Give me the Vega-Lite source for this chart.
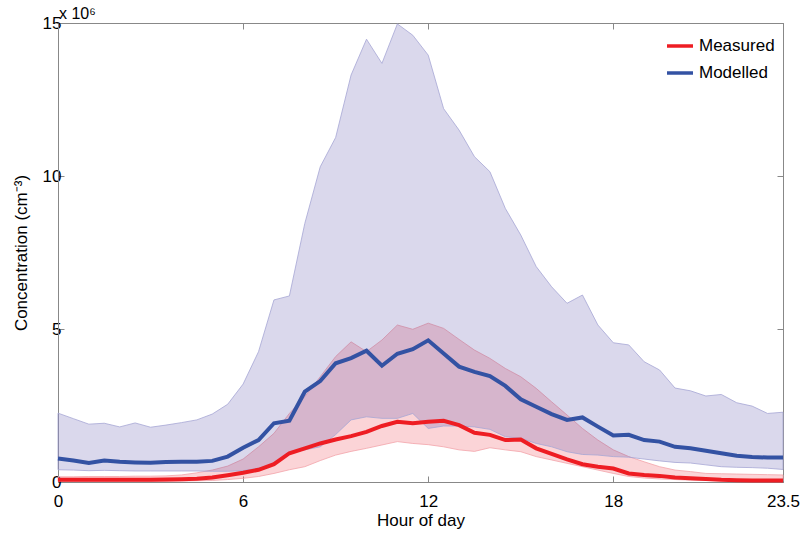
{
  "$schema": "https://vega.github.io/schema/vega-lite/v6.json",
  "width": 725,
  "height": 459,
  "autosize": "none",
  "padding": {"left": 58, "top": 23, "right": 17, "bottom": 52},
  "background": "white",
  "config": {
    "font": "Liberation Sans",
    "view": {"stroke": "#888888", "strokeWidth": 1},
    "axis": {
      "labelFont": "Liberation Sans",
      "titleFont": "Liberation Sans",
      "labelFontSize": 17,
      "titleFontSize": 17,
      "titleFontWeight": "normal",
      "labelColor": "#000000",
      "titleColor": "#000000",
      "domainColor": "#888888",
      "tickColor": "#888888",
      "grid": false
    }
  },
  "title": {"text": "x 10⁶", "anchor": "start", "frame": "group", "fontSize": 16, "fontWeight": "normal", "offset": -8, "dx": 1, "color": "#000000", "font": "Liberation Sans"},
  "data": {
    "values": [
      {"hour": 0, "Measured": 0.07, "meas_lo": 0.02, "meas_hi": 0.17, "Modelled": 0.77, "mod_lo": 0.40, "mod_hi": 2.25},
      {"hour": 0.5, "Measured": 0.07, "meas_lo": 0.02, "meas_hi": 0.17, "Modelled": 0.70, "mod_lo": 0.39, "mod_hi": 2.07},
      {"hour": 1, "Measured": 0.07, "meas_lo": 0.02, "meas_hi": 0.18, "Modelled": 0.62, "mod_lo": 0.37, "mod_hi": 1.89},
      {"hour": 1.5, "Measured": 0.07, "meas_lo": 0.02, "meas_hi": 0.18, "Modelled": 0.70, "mod_lo": 0.38, "mod_hi": 1.92},
      {"hour": 2, "Measured": 0.07, "meas_lo": 0.02, "meas_hi": 0.18, "Modelled": 0.66, "mod_lo": 0.37, "mod_hi": 1.80},
      {"hour": 2.5, "Measured": 0.07, "meas_lo": 0.02, "meas_hi": 0.19, "Modelled": 0.64, "mod_lo": 0.36, "mod_hi": 1.93},
      {"hour": 3, "Measured": 0.07, "meas_lo": 0.02, "meas_hi": 0.19, "Modelled": 0.63, "mod_lo": 0.36, "mod_hi": 1.79},
      {"hour": 3.5, "Measured": 0.08, "meas_lo": 0.02, "meas_hi": 0.20, "Modelled": 0.65, "mod_lo": 0.36, "mod_hi": 1.86},
      {"hour": 4, "Measured": 0.09, "meas_lo": 0.03, "meas_hi": 0.23, "Modelled": 0.66, "mod_lo": 0.36, "mod_hi": 1.94},
      {"hour": 4.5, "Measured": 0.11, "meas_lo": 0.04, "meas_hi": 0.30, "Modelled": 0.66, "mod_lo": 0.36, "mod_hi": 2.03},
      {"hour": 5, "Measured": 0.15, "meas_lo": 0.05, "meas_hi": 0.39, "Modelled": 0.69, "mod_lo": 0.35, "mod_hi": 2.22},
      {"hour": 5.5, "Measured": 0.22, "meas_lo": 0.08, "meas_hi": 0.52, "Modelled": 0.83, "mod_lo": 0.35, "mod_hi": 2.54},
      {"hour": 6, "Measured": 0.30, "meas_lo": 0.12, "meas_hi": 0.75, "Modelled": 1.12, "mod_lo": 0.37, "mod_hi": 3.20},
      {"hour": 6.5, "Measured": 0.40, "meas_lo": 0.18, "meas_hi": 1.15, "Modelled": 1.37, "mod_lo": 0.45, "mod_hi": 4.26},
      {"hour": 7, "Measured": 0.58, "meas_lo": 0.28, "meas_hi": 1.59, "Modelled": 1.92, "mod_lo": 0.60, "mod_hi": 5.95},
      {"hour": 7.5, "Measured": 0.94, "meas_lo": 0.40, "meas_hi": 2.24, "Modelled": 2.00, "mod_lo": 0.95, "mod_hi": 6.08},
      {"hour": 8, "Measured": 1.10, "meas_lo": 0.50, "meas_hi": 2.79, "Modelled": 2.95, "mod_lo": 1.05, "mod_hi": 8.45},
      {"hour": 8.5, "Measured": 1.26, "meas_lo": 0.70, "meas_hi": 3.44, "Modelled": 3.30, "mod_lo": 1.15, "mod_hi": 10.30},
      {"hour": 9, "Measured": 1.39, "meas_lo": 0.88, "meas_hi": 4.10, "Modelled": 3.88, "mod_lo": 1.55, "mod_hi": 11.26},
      {"hour": 9.5, "Measured": 1.50, "meas_lo": 1.00, "meas_hi": 4.58, "Modelled": 4.05, "mod_lo": 2.03, "mod_hi": 13.30},
      {"hour": 10, "Measured": 1.64, "meas_lo": 1.10, "meas_hi": 4.26, "Modelled": 4.29, "mod_lo": 2.13, "mod_hi": 14.47},
      {"hour": 10.5, "Measured": 1.83, "meas_lo": 1.21, "meas_hi": 4.64, "Modelled": 3.80, "mod_lo": 2.08, "mod_hi": 13.68},
      {"hour": 11, "Measured": 1.97, "meas_lo": 1.32, "meas_hi": 5.13, "Modelled": 4.19, "mod_lo": 2.08, "mod_hi": 14.97},
      {"hour": 11.5, "Measured": 1.92, "meas_lo": 1.26, "meas_hi": 4.99, "Modelled": 4.34, "mod_lo": 2.24, "mod_hi": 14.60},
      {"hour": 12, "Measured": 1.97, "meas_lo": 1.22, "meas_hi": 5.19, "Modelled": 4.63, "mod_lo": 1.75, "mod_hi": 13.95},
      {"hour": 12.5, "Measured": 2.00, "meas_lo": 1.15, "meas_hi": 5.02, "Modelled": 4.20, "mod_lo": 1.83, "mod_hi": 12.20},
      {"hour": 13, "Measured": 1.86, "meas_lo": 1.05, "meas_hi": 4.66, "Modelled": 3.77, "mod_lo": 1.83, "mod_hi": 11.50},
      {"hour": 13.5, "Measured": 1.61, "meas_lo": 1.00, "meas_hi": 4.31, "Modelled": 3.60, "mod_lo": 1.80, "mod_hi": 10.63},
      {"hour": 14, "Measured": 1.54, "meas_lo": 1.12, "meas_hi": 4.04, "Modelled": 3.46, "mod_lo": 1.72, "mod_hi": 10.14},
      {"hour": 14.5, "Measured": 1.37, "meas_lo": 1.05, "meas_hi": 3.71, "Modelled": 3.14, "mod_lo": 1.48, "mod_hi": 8.94},
      {"hour": 15, "Measured": 1.39, "meas_lo": 0.99, "meas_hi": 3.44, "Modelled": 2.70, "mod_lo": 1.43, "mod_hi": 8.07},
      {"hour": 15.5, "Measured": 1.10, "meas_lo": 0.83, "meas_hi": 3.06, "Modelled": 2.46, "mod_lo": 1.26, "mod_hi": 7.04},
      {"hour": 16, "Measured": 0.92, "meas_lo": 0.72, "meas_hi": 2.62, "Modelled": 2.22, "mod_lo": 1.15, "mod_hi": 6.38},
      {"hour": 16.5, "Measured": 0.74, "meas_lo": 0.61, "meas_hi": 2.19, "Modelled": 2.03, "mod_lo": 0.99, "mod_hi": 5.84},
      {"hour": 17, "Measured": 0.58, "meas_lo": 0.50, "meas_hi": 1.75, "Modelled": 2.11, "mod_lo": 0.90, "mod_hi": 6.11},
      {"hour": 17.5, "Measured": 0.50, "meas_lo": 0.39, "meas_hi": 1.37, "Modelled": 1.81, "mod_lo": 0.88, "mod_hi": 5.13},
      {"hour": 18, "Measured": 0.44, "meas_lo": 0.28, "meas_hi": 1.05, "Modelled": 1.52, "mod_lo": 0.83, "mod_hi": 4.55},
      {"hour": 18.5, "Measured": 0.28, "meas_lo": 0.18, "meas_hi": 0.83, "Modelled": 1.54, "mod_lo": 0.81, "mod_hi": 4.48},
      {"hour": 19, "Measured": 0.23, "meas_lo": 0.13, "meas_hi": 0.66, "Modelled": 1.37, "mod_lo": 0.75, "mod_hi": 3.93},
      {"hour": 19.5, "Measured": 0.20, "meas_lo": 0.10, "meas_hi": 0.50, "Modelled": 1.32, "mod_lo": 0.69, "mod_hi": 3.66},
      {"hour": 20, "Measured": 0.15, "meas_lo": 0.08, "meas_hi": 0.39, "Modelled": 1.15, "mod_lo": 0.64, "mod_hi": 3.07},
      {"hour": 20.5, "Measured": 0.12, "meas_lo": 0.06, "meas_hi": 0.34, "Modelled": 1.10, "mod_lo": 0.62, "mod_hi": 2.98},
      {"hour": 21, "Measured": 0.10, "meas_lo": 0.05, "meas_hi": 0.28, "Modelled": 1.02, "mod_lo": 0.56, "mod_hi": 2.81},
      {"hour": 21.5, "Measured": 0.07, "meas_lo": 0.04, "meas_hi": 0.27, "Modelled": 0.94, "mod_lo": 0.50, "mod_hi": 2.86},
      {"hour": 22, "Measured": 0.06, "meas_lo": 0.03, "meas_hi": 0.26, "Modelled": 0.86, "mod_lo": 0.48, "mod_hi": 2.59},
      {"hour": 22.5, "Measured": 0.05, "meas_lo": 0.03, "meas_hi": 0.25, "Modelled": 0.82, "mod_lo": 0.47, "mod_hi": 2.48},
      {"hour": 23, "Measured": 0.05, "meas_lo": 0.03, "meas_hi": 0.24, "Modelled": 0.80, "mod_lo": 0.45, "mod_hi": 2.24},
      {"hour": 23.5, "Measured": 0.05, "meas_lo": 0.03, "meas_hi": 0.23, "Modelled": 0.80, "mod_lo": 0.41, "mod_hi": 2.28}
    ]
  },
  "layer": [
    {
      "mark": {"type": "area", "fill": "#eb2837", "fillOpacity": 0.2, "stroke": "#f2a3aa", "strokeWidth": 0.8},
      "encoding": {
        "x": {"field": "hour", "type": "quantitative", "scale": {"domain": [0, 23.5], "nice": false, "zero": false},
          "axis": {"orient": "bottom", "values": [0, 6, 12, 18, 23.5], "format": ".3~g", "title": "Hour of day", "tickSize": -6, "labelPadding": 17, "titlePadding": 3, "labelFlush": false}},
        "y": {"field": "meas_lo", "type": "quantitative", "scale": {"domain": [0, 15], "nice": false},
          "axis": {"orient": "left", "values": [0, 5, 10, 15], "title": "Concentration (cm⁻³)", "tickSize": -6, "labelPadding": 3, "titlePadding": 12, "labelFlush": false}},
        "y2": {"field": "meas_hi"}
      }
    },
    {
      "mark": {"type": "area", "fill": "#463ca0", "fillOpacity": 0.2, "stroke": "#a6a6d4", "strokeWidth": 0.8},
      "encoding": {
        "x": {"field": "hour", "type": "quantitative",
          "axis": {"orient": "top", "values": [0, 6, 12, 18, 23.5], "labels": false, "title": null, "tickSize": -6, "domain": true, "labelPadding": 0, "minExtent": 0, "maxExtent": 0}},
        "y": {"field": "mod_lo", "type": "quantitative",
          "axis": {"orient": "right", "values": [0, 5, 10, 15], "labels": false, "title": null, "tickSize": -6, "domain": true, "labelPadding": 0, "minExtent": 0, "maxExtent": 0}},
        "y2": {"field": "mod_hi"}
      }
    },
    {
      "transform": [{"fold": ["Measured", "Modelled"], "as": ["series", "value"]}],
      "mark": {"type": "line", "strokeWidth": 4, "strokeJoin": "miter"},
      "encoding": {
        "x": {"field": "hour", "type": "quantitative", "axis": null},
        "y": {"field": "value", "type": "quantitative", "axis": null},
        "color": {"field": "series", "type": "nominal",
          "scale": {"domain": ["Measured", "Modelled"], "range": ["#ee1d23", "#3352a3"]},
          "legend": {"title": null, "orient": "top-right", "offset": 5, "padding": 3, "symbolType": "stroke", "symbolSize": 676, "symbolStrokeWidth": 3.5, "labelFontSize": 17, "labelFont": "Liberation Sans", "labelColor": "#000000", "labelOffset": 4, "rowPadding": 4}}
      }
    }
  ],
  "resolve": {"axis": {"x": "independent", "y": "independent"}}
}
